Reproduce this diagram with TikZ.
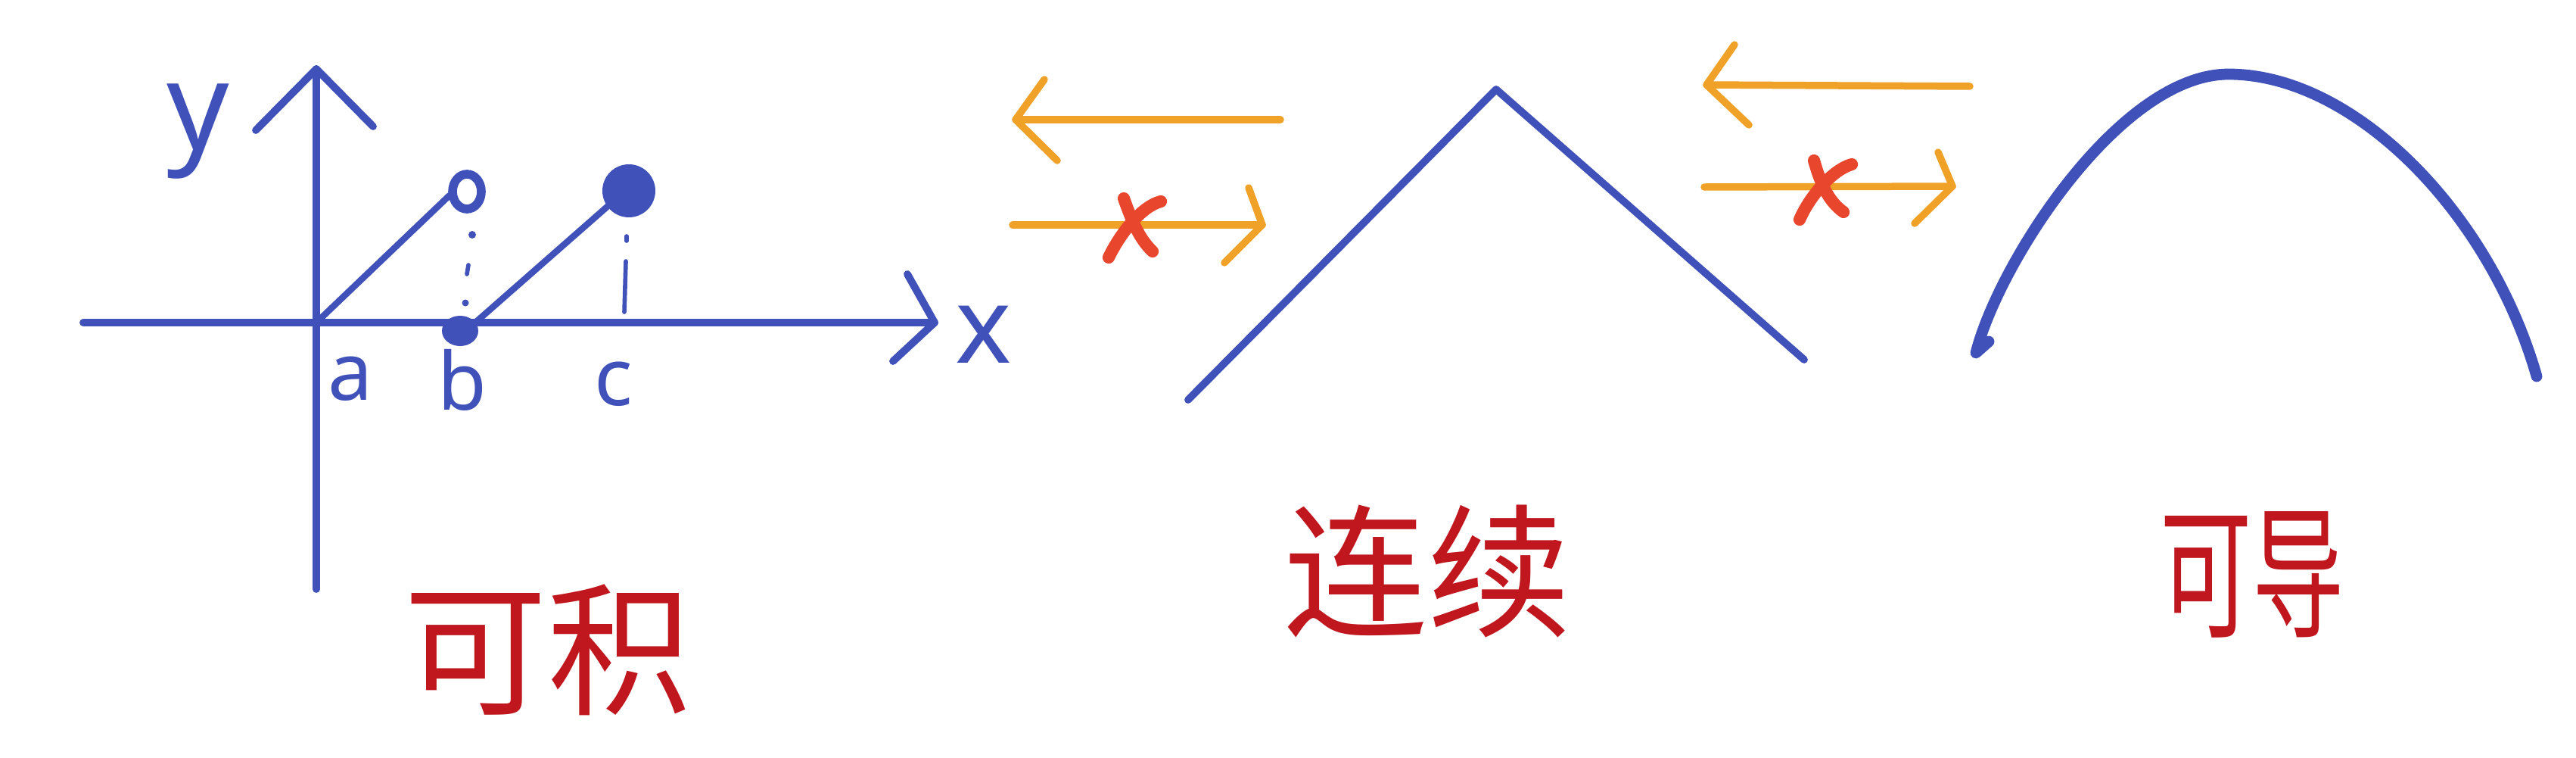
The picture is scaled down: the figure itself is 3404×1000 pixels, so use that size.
\documentclass[tikz,border=0pt]{standalone}
\usepackage{fontspec}
\setmainfont{Noto Sans}
\newfontfamily\cjk{Noto Sans CJK SC}
\definecolor{penblue}{RGB}{64,82,186}
\definecolor{penorange}{RGB}{240,162,40}
\definecolor{penred}{RGB}{192,22,30}
\definecolor{crossred}{RGB}{232,70,45}
\begin{document}
\begin{tikzpicture}[x=0.01cm,y=-0.01cm,
  blueline/.style={draw=penblue,line width=2.8pt,line cap=round,line join=round},
  orangeline/.style={draw=penorange,line width=2.7pt,line cap=round,line join=round},
  crossline/.style={draw=crossred,line width=4.6pt,line cap=round},
  lbl/.style={text=penblue,inner sep=0pt,font=\fontsize{30pt}{30pt}\selectfont},
  hanzi/.style={text=penred,inner sep=0pt,font=\cjk\fontsize{54pt}{54pt}\selectfont}]
\useasboundingbox (0,0) rectangle (3404,1000);
\fill[white] (0,0) rectangle (3404,1000);
% ---------- panel 1 : integrable ----------
\coordinate (O) at (418,426);
\coordinate (xl) at (110,426);
\coordinate (xr) at (1235,426);
\coordinate (yt) at (418,91);
\coordinate (yb) at (418,778);
\draw[blueline] (xl) -- (xr);
\draw[blueline] (1199,362) -- (xr) -- (1180,477);
\draw[blueline] (yb) -- (yt);
\draw[blueline] (338,172) -- (yt) -- (493,167);
\node[lbl,font=\fontsize{46pt}{46pt}\selectfont] (ylab) at (262,174) {y};
\node[lbl,font=\fontsize{40pt}{40pt}\selectfont] (xlab) at (1300,442) {x};
\node[lbl] (alab) at (463,500) {a};
\node[lbl] (blab) at (611,502) {b};
\node[lbl] (clab) at (811,507) {c};
\coordinate (bpt) at (608,437);
\coordinate (open) at (617,253);
\coordinate (cpt) at (831,252);
\draw[blueline,line width=2.4pt] (O) -- (594,258);
\draw[blueline,line width=2.4pt] (628,426) -- (808,268);
\draw[penblue,line width=3.3pt,fill=white] (open) ellipse (19 and 23);
\fill[penblue] (bpt) ellipse (24 and 20);
\fill[penblue] (cpt) circle (35);
\fill[penblue] (624,310) circle (5);
\draw[penblue,line width=1.6pt,line cap=round] (619,350) -- (617,362);
\fill[penblue] (615,400) circle (4.5);
\draw[penblue,line width=1.6pt,line cap=round] (828,312) -- (828,318);
\draw[penblue,line width=1.6pt,line cap=round] (827,345) -- (825,412);
\node[hanzi] (kj) at (723,858) {可积};
% ---------- arrows between panels ----------
\coordinate (a1s) at (1692,158);
\coordinate (a1t) at (1342,158);
\draw[orangeline] (a1s) -- (a1t);
\draw[orangeline] (1380,105) -- (a1t) -- (1397,212);
\coordinate (b1s) at (1338,297);
\coordinate (b1t) at (1668,297);
\draw[orangeline] (b1s) -- (b1t);
\draw[orangeline] (1650,248) -- (b1t) -- (1618,347);
\draw[crossline] (1485,262) .. controls (1495,290) and (1505,315) .. (1523,332);
\draw[crossline] (1534,266) .. controls (1510,272) and (1482,305) .. (1465,340);
\coordinate (a2s) at (2603,114);
\coordinate (a2t) at (2255,112);
\draw[orangeline] (a2s) -- (a2t);
\draw[orangeline] (2292,59) -- (a2t) -- (2311,165);
\coordinate (b2s) at (2252,247);
\coordinate (b2t) at (2580,246);
\draw[orangeline] (b2s) -- (b2t);
\draw[orangeline] (2561,201) -- (b2t) -- (2530,295);
\draw[crossline] (2397,212) .. controls (2405,240) and (2415,265) .. (2436,280);
\draw[crossline] (2447,217) .. controls (2422,224) and (2392,258) .. (2378,290);
% ---------- panel 2 : continuous ----------
\coordinate (pl) at (1570,528);
\coordinate (pk) at (1977,118);
\coordinate (pr) at (2384,475);
\draw[blueline] (pl) -- (pk) -- (pr);
\node[hanzi] (lx) at (1886,755) {连续};
% ---------- panel 3 : differentiable ----------
\coordinate (cs) at (2611,466);
\coordinate (cp) at (2945,98);
\coordinate (ce) at (3352,497);
\draw[penblue,line width=4.2pt,line cap=round,line join=round]
  (2628,451) -- (cs) .. controls (2640,350) and (2800,98) .. (cp)
  .. controls (3110,98) and (3290,280) .. (ce);
\node[hanzi,xscale=0.64] (kd) at (2976,759) {可导};
\end{tikzpicture}
\end{document}
